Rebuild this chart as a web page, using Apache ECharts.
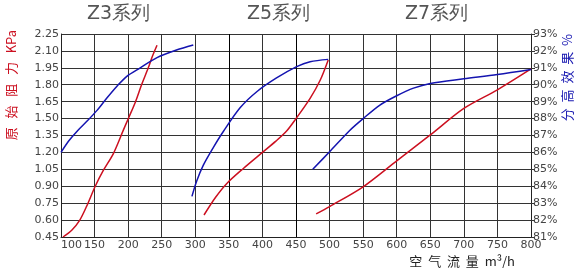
<!DOCTYPE html>
<html><head><meta charset="utf-8">
<script src="https://cdn.jsdelivr.net/npm/echarts@6/dist/echarts.min.js"></script>
<style>html,body{margin:0;padding:0;background:#fff}#c{width:579px;height:268px}</style>
</head><body><div id="c"></div>
<script>
// Axis ticks
var xTicks = [100, 800, 50];          // min, max, interval (air flow m³/h)
var leftTicks = [0.45, 2.25, 0.15];   // resistance KPa
var rightTicks = [81, 93, 1];         // efficiency %
var seriesTitles = ['Z3系列', 'Z5系列', 'Z7系列'];

// Resistance curves [flow, KPa]
var z3Resistance = [[103,0.45],[116,0.51],[128,0.60],[138,0.72],[151,0.90],[163,1.04],[178,1.19],[193,1.40],[201,1.51],[211,1.65],[220,1.80],[230,1.95],[236,2.05],[243,2.15]];
var z5Resistance = [[313,0.645],[330,0.80],[347,0.925],[372,1.06],[400,1.20],[420,1.30],[436,1.39],[450,1.50],[471,1.68],[486,1.84],[498,2.02]];
var z7Resistance = [[480,0.655],[500,0.72],[550,0.895],[600,1.125],[650,1.355],[700,1.59],[750,1.755],[800,1.94]];

// Efficiency curves [flow, %]
var z3Efficiency = [[100,86.0],[112,86.7],[125,87.3],[140,87.9],[154,88.5],[168,89.2],[183,89.9],[198,90.5],[218,91.0],[243,91.6],[272,92.05],[297,92.35]];
var z5Efficiency = [[295,83.4],[302,84.3],[312,85.25],[327,86.3],[342,87.25],[367,88.65],[392,89.6],[421,90.4],[451,91.07],[471,91.36],[498,91.5]];
var z7Efficiency = [[475,85.0],[500,86.04],[530,87.3],[550,88.0],[575,88.8],[600,89.35],[625,89.8],[650,90.08],[700,90.35],[750,90.6],[800,90.9]];

var RED = '#cc1020', BLUE = '#1414b0';
var chart = echarts.init(document.getElementById('c'), null, {renderer: 'canvas'});
var gridColors = [];
for (var v = xTicks[0]; v <= xTicks[1]; v += xTicks[2]) gridColors.push((v === 350 || v === 450) ? '#000' : '#333');

function line(data, color, yIdx) {
  return {type: 'line', data: data, yAxisIndex: yIdx, smooth: 0.3, symbol: 'none',
    lineStyle: {color: color, width: 1.5}, itemStyle: {color: color}, animation: false};
}
var tickFont = {fontFamily: 'DejaVu Sans', fontSize: 11, color: '#444'};
var titleFont = {fontFamily: 'DejaVu Sans', fontSize: 19, fontWeight: 'normal', color: '#555'};
chart.setOption({
  backgroundColor: '#fff',
  animation: false,
  title: [
    {text: seriesTitles[0], left: 82, top: 0, textStyle: titleFont},
    {text: seriesTitles[1], left: 242, top: 0, textStyle: titleFont},
    {text: seriesTitles[2], left: 400, top: 0, textStyle: titleFont}
  ],
  grid: {left: 61, right: 48, top: 34, bottom: 31, containLabel: false},
  xAxis: {type: 'value', min: xTicks[0], max: xTicks[1], interval: xTicks[2],
    name: '空  气  流  量  m³/h', nameLocation: 'end', nameGap: 0,
    nameTextStyle: {fontFamily: 'Noto Sans CJK SC', fontSize: 13, color: '#222', align: 'right', verticalAlign: 'top', padding: [18, 16, 0, 0]},
    axisLine: {show: true, lineStyle: {color: '#222'}}, axisTick: {show: false},
    axisLabel: Object.assign({margin: 3, alignMinLabel: 'left'}, tickFont),
    splitLine: {show: true, lineStyle: {color: gridColors, width: 1}}},
  yAxis: [
    {type: 'value', min: leftTicks[0], max: leftTicks[1], interval: leftTicks[2], position: 'left',
      axisLine: {show: true, lineStyle: {color: '#222'}}, axisTick: {show: false},
      axisLabel: Object.assign({margin: 2, formatter: function (v) { return v.toFixed(2); }}, tickFont),
      splitLine: {show: true, lineStyle: {color: '#333', width: 1}}},
    {type: 'value', min: rightTicks[0], max: rightTicks[1], interval: rightTicks[2], position: 'right',
      axisLine: {show: true, lineStyle: {color: '#222'}}, axisTick: {show: true, length: 4, lineStyle: {color: '#333'}},
      axisLabel: Object.assign({margin: 2, formatter: '{value}%'}, tickFont),
      splitLine: {show: false}}
  ],
  graphic: [
    {type: 'text', left: 5, top: 30, rotation: Math.PI / 2,
      style: {text: '原   始   阻   力   KPa', fill: RED, font: '13px "Noto Sans CJK SC"'}},
    {type: 'text', left: 561, top: 34, rotation: Math.PI / 2,
      style: {text: '分  高  效  果  %', fill: BLUE, font: '13px "Noto Sans CJK SC"'}}
  ],
  series: [
    line(z3Resistance, RED, 0), line(z5Resistance, RED, 0), line(z7Resistance, RED, 0),
    line(z3Efficiency, BLUE, 1), line(z5Efficiency, BLUE, 1), line(z7Efficiency, BLUE, 1)
  ]
});
</script></body></html>
